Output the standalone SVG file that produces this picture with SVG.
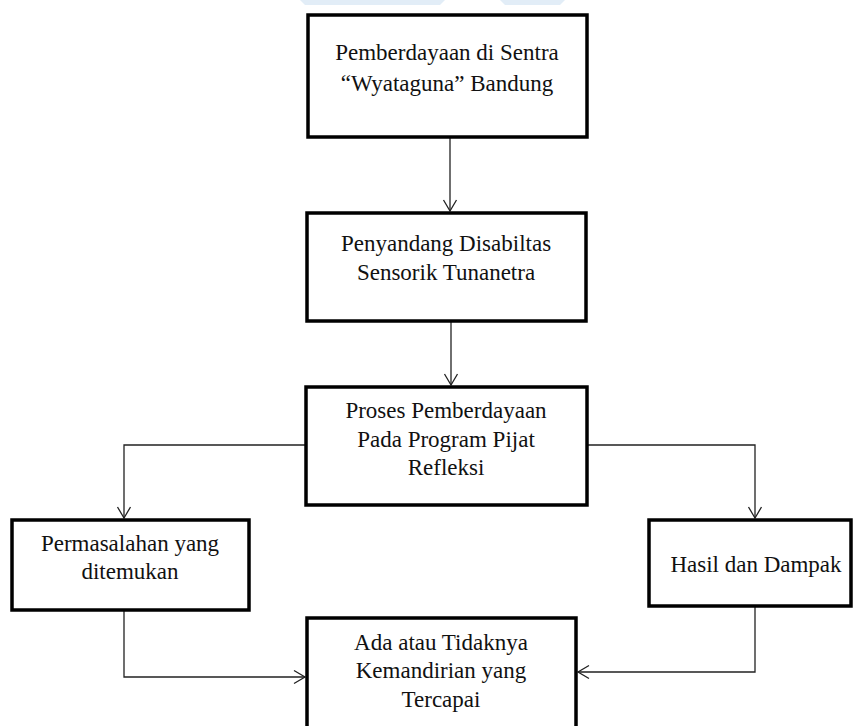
<svg xmlns="http://www.w3.org/2000/svg" width="853" height="726" viewBox="0 0 853 726">
<style>
.box{fill:#fff;stroke:#000;stroke-width:3.5}
.t{font-family:"Liberation Serif","Times New Roman",serif;font-size:23px;fill:#111;text-anchor:middle}
.c{fill:none;stroke:#222;stroke-width:1.3}
.wm{fill:#d6e6f4;opacity:0.7}
</style>
<defs>
<marker id="ah" markerUnits="userSpaceOnUse" markerWidth="14" markerHeight="16" viewBox="-12 -8 14 16" refX="0" refY="0" orient="auto">
<path d="M-11,-6.5 L0,0 L-11,6.5" fill="none" stroke="#222" stroke-width="1.3"/>
</marker>
</defs>
<rect width="853" height="726" fill="#fff"/>
<g id="watermark">
<path class="wm" d="M300,0 L445,0 L440,5 L305,5 Z"/>
<path class="wm" d="M500,0 L565,0 L560,5 L505,5 Z"/>
</g>
<g id="connectors">
<line class="c" x1="450" y1="137" x2="450" y2="211" marker-end="url(#ah)"/>
<line class="c" x1="451" y1="321" x2="451" y2="385" marker-end="url(#ah)"/>
<polyline class="c" points="306,445 124,445 124,518" marker-end="url(#ah)"/>
<polyline class="c" points="587,445 755,445 755,518" marker-end="url(#ah)"/>
<polyline class="c" points="124,610 124,677 305,677" marker-end="url(#ah)"/>
<polyline class="c" points="755,606 755,672 578,672" marker-end="url(#ah)"/>
</g>
<g id="n1">
<rect class="box" x="308" y="15" width="279" height="122"/>
<text class="t" x="447" y="60">Pemberdayaan di Sentra</text>
<text class="t" x="447" y="91">“Wyataguna” Bandung</text>
</g>
<g id="n2">
<rect class="box" x="307" y="213" width="279" height="108"/>
<text class="t" x="446" y="251">Penyandang Disabiltas</text>
<text class="t" x="446" y="280">Sensorik Tunanetra</text>
</g>
<g id="n3">
<rect class="box" x="306" y="387" width="281" height="118"/>
<text class="t" x="446" y="418">Proses Pemberdayaan</text>
<text class="t" x="446" y="447">Pada Program Pijat</text>
<text class="t" x="446" y="475">Refleksi</text>
</g>
<g id="n4">
<rect class="box" x="12" y="520" width="237" height="90"/>
<text class="t" x="130" y="551">Permasalahan yang</text>
<text class="t" x="130" y="579">ditemukan</text>
</g>
<g id="n5">
<rect class="box" x="649" y="520" width="202" height="86"/>
<text class="t" x="756" y="572">Hasil dan Dampak</text>
</g>
<g id="n6">
<rect class="box" x="307" y="618" width="269" height="120"/>
<text class="t" x="441" y="650">Ada atau Tidaknya</text>
<text class="t" x="441" y="678">Kemandirian yang</text>
<text class="t" x="441" y="707">Tercapai</text>
</g>
</svg>
